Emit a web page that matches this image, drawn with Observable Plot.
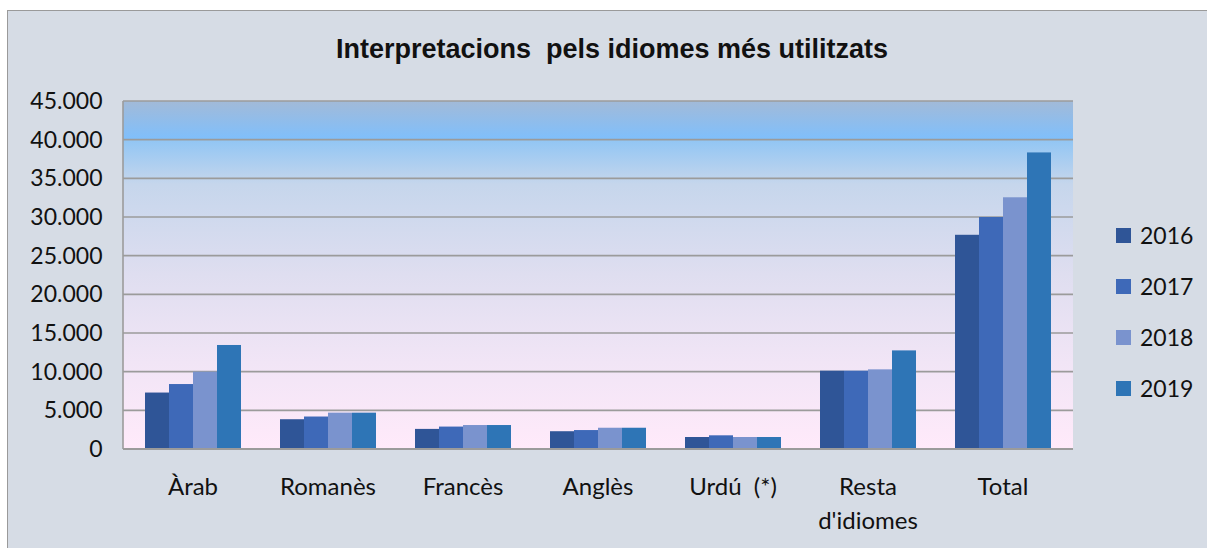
<!DOCTYPE html>
<html>
<head>
<meta charset="utf-8">
<script src="https://cdn.jsdelivr.net/npm/d3@7"></script>
<script src="https://cdn.jsdelivr.net/npm/@observablehq/plot@0.6"></script>
<style>
  html, body { margin: 0; padding: 0; background: #ffffff; width: 1207px; height: 548px; overflow: hidden; }
  #panel { position: absolute; left: 7px; top: 10px; width: 1210px; height: 550px; background: #D6DCE5; border-left: 1px solid #9a9a9a; border-top: 1px solid #9a9a9a; }
  #plotbg { position: absolute; left: 123px; top: 101px; width: 950px; height: 348px;
    background: linear-gradient(to bottom, #A2BAD8 0%, #7FBFFC 11%, #92C6F4 11.3%, #C6D6EC 24%, #DFDEF0 50%, #F1E5F6 75%, #FFEAFA 100%); }
  #chart { position: absolute; left: 0; top: 0; }
  #title { position: absolute; left: 0; width: 1224px; top: 34px; text-align: center; font-family: "Liberation Sans Narrow", "Arial Narrow", "Liberation Sans", sans-serif; font-stretch: condensed; font-weight: bold; font-size: 27px; color: #111; white-space: pre; }
  #legend { position: absolute; left: 1116px; top: 221px; font-family: Lato, "Open Sans", sans-serif; font-size: 23px; color: #111; }
  .item { height: 51px; display: flex; align-items: flex-start; }
  .sw { width: 15px; height: 15px; margin-top: 7px; margin-right: 9px; }
</style>
</head>
<body>
<div id="panel"></div>
<div id="plotbg"></div>
<div id="chart"></div>
<div id="title">Interpretacions  pels idiomes més utilitzats</div>
<div id="legend"></div>
<script>
const categories = ["Àrab", "Romanès", "Francès", "Anglès", "Urdú  (*)", "Resta d'idiomes", "Total"];
const years = ["2016", "2017", "2018", "2019"];
const colors = ["#2F5597", "#3E69B8", "#7A93CE", "#2E75B6"];
const v2016 = [7300, 3850, 2600, 2300, 1550, 10130, 27700];
const v2017 = [8400, 4200, 2900, 2450, 1770, 10130, 30000];
const v2018 = [10000, 4700, 3100, 2750, 1550, 10300, 32550];
const v2019 = [13450, 4700, 3100, 2750, 1550, 12750, 38350];
const yTicks = [0, 5000, 10000, 15000, 20000, 25000, 30000, 35000, 40000, 45000];

const series = [v2016, v2017, v2018, v2019];
const data = [];
categories.forEach((c, i) => years.forEach((y, j) => data.push({cat: c, year: y, value: series[j][i]})));

const fmt = d => d === 0 ? "0" : d3.format(",")(d).replace(/,/g, ".");
const catLabel = d => d === "Resta d'idiomes" ? "Resta\nd'idiomes" : d;

const plot = Plot.plot({
  width: 1207,
  height: 548,
  marginLeft: 123,
  marginRight: 134,
  marginTop: 101,
  marginBottom: 99,
  style: {background: "transparent", fontFamily: "Lato, 'Open Sans', sans-serif", color: "#111"},
  fx: {domain: categories, paddingInner: 0.263, paddingOuter: 0.1315, label: null},
  x: {domain: years, padding: 0, axis: null},
  y: {domain: [0, 45000], ticks: yTicks, label: null},
  color: {domain: years, range: colors},
  marks: [
    Plot.barY(data, {fx: "cat", x: "year", y: "value", fill: "year", inset: 0}),
    Plot.axisY({ticks: yTicks, tickFormat: fmt, tickSize: 0, tickPadding: 41, fontSize: 23, label: null}),
    Plot.axisFx({anchor: "bottom", tickFormat: catLabel, tickSize: 0, tickPadding: 21, fontSize: 24, lineHeight: 1.42, label: null})
  ]
});

const svgNS = "http://www.w3.org/2000/svg";
const ys = plot.scale("y");
document.getElementById("chart").appendChild(plot);

// gridlines across the whole plot area, positioned by the plot's y scale
const grid = document.createElementNS(svgNS, "g");
yTicks.forEach(t => {
  const yy = ys.apply(t);
  const l = document.createElementNS(svgNS, "line");
  l.setAttribute("x1", 123); l.setAttribute("x2", 1073);
  l.setAttribute("y1", yy); l.setAttribute("y2", yy);
  l.setAttribute("stroke", "#9b9b9b");
  l.setAttribute("stroke-width", t === 0 ? 2 : 1.6);
  grid.appendChild(l);
});
const left = document.createElementNS(svgNS, "line");
left.setAttribute("x1", 123); left.setAttribute("x2", 123);
left.setAttribute("y1", ys.apply(45000)); left.setAttribute("y2", ys.apply(0));
left.setAttribute("stroke", "#9b9b9b"); left.setAttribute("stroke-width", 1.6);
grid.appendChild(left);
plot.insertBefore(grid, plot.firstChild.nextSibling);
// keep bottom axis line on top of bars
const base = document.createElementNS(svgNS, "line");
base.setAttribute("x1", 123); base.setAttribute("x2", 1073);
base.setAttribute("y1", ys.apply(0)); base.setAttribute("y2", ys.apply(0));
base.setAttribute("stroke", "#9b9b9b"); base.setAttribute("stroke-width", 2);
plot.appendChild(base);

const legend = document.getElementById("legend");
years.forEach((y, i) => {
  const it = document.createElement("div");
  it.className = "item";
  it.innerHTML = `<div class="sw" style="background:${colors[i]}"></div><div>${y}</div>`;
  legend.appendChild(it);
});
</script>
</body>
</html>
